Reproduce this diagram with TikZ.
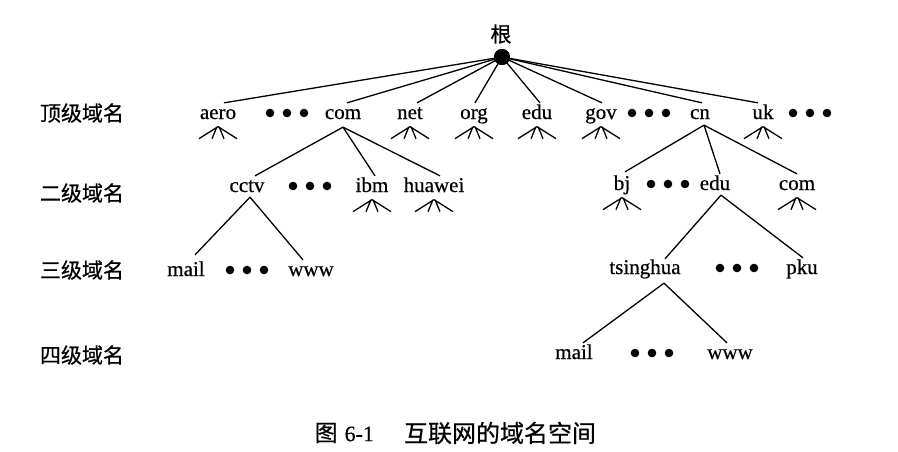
\documentclass[tikz,border=0pt]{standalone}
\usepackage{fontspec}
\setmainfont{Liberation Serif}[FakeBold=0.5]
\newfontfamily\cjk{Noto Sans CJK SC}[FakeBold=0.6]
\begin{document}
\begin{tikzpicture}[x=1pt,y=-1pt,line width=1.3pt,
  lbl/.style={font=\fontsize{21}{21}\selectfont,inner sep=0pt,text height=15.5pt,text depth=3.5pt},
  lvl/.style={font=\cjk\fontsize{21}{21}\selectfont,inner sep=0pt},
  rootdot/.style={circle,fill=black,inner sep=0pt,minimum size=16pt},
  fan/.pic={\draw (0,0) -- (-19,12) (-1,0) -- (-6,12) (1,0) -- (6,12) (0,0) -- (19,12);},
  ellip/.pic={\fill (-17,0) circle (4.3pt) (0,0) circle (4.3pt) (17,0) circle (4.3pt);}]
\useasboundingbox (0,0) rectangle (898,451);
% level labels
\node[lvl] (L1) at (82,113) {顶级域名};
\node[lvl] (L2) at (82,193) {二级域名};
\node[lvl] (L3) at (82,270) {三级域名};
\node[lvl] (L4) at (82,355) {四级域名};
% root
\node[lvl] (gen) at (501,34) {根};
\node[rootdot] (root) at (502,57) {};
% level 1
\node[lbl] (aero) at (218,113) {aero};
\node[lbl] (com) at (343,113) {com};
\node[lbl] (net) at (410,113) {net};
\node[lbl] (org) at (474,113) {org};
\node[lbl] (edu) at (537,113) {edu};
\node[lbl] (gov) at (601,113) {gov};
\node[lbl] (cn) at (700,113) {cn};
\node[lbl] (uk) at (763,113) {uk};
\pic at (287,113) {ellip};
\pic at (649,113) {ellip};
\pic at (810,113) {ellip};
% level 2
\node[lbl] (cctv) at (247,186) {cctv};
\node[lbl] (ibm) at (372,186) {ibm};
\node[lbl] (huawei) at (434,186) {huawei};
\node[lbl] (bj) at (622,184) {bj};
\node[lbl] (edu2) at (715,184) {edu};
\node[lbl] (com2) at (797,184) {com};
\pic at (310,186) {ellip};
\pic at (668,184) {ellip};
% level 3
\node[lbl] (mail) at (186,270) {mail};
\node[lbl] (www) at (311,270) {www};
\node[lbl] (tsinghua) at (645,268) {tsinghua};
\node[lbl] (pku) at (802,268) {pku};
\pic at (247,270) {ellip};
\pic at (737,268) {ellip};
% level 4
\node[lbl] (mail2) at (574,353) {mail};
\node[lbl] (www2) at (730,353) {www};
\pic at (652,353) {ellip};
% root connectors
\draw (root.center) -- ([xshift=6pt]aero.north);
\draw (root.center) -- ([xshift=4pt]com.north);
\draw (root.center) -- ([xshift=7pt]net.north);
\draw (root.center) -- ([xshift=1pt]org.north);
\draw (root.center) -- ([xshift=3pt]edu.north);
\draw (root.center) -- ([xshift=1pt]gov.north);
\draw (root.center) -- ([xshift=2pt]cn.north);
\draw (root.center) -- ([xshift=-5pt]uk.north);
\node[rootdot] at (root) {};
% com subtree
\coordinate (comA) at ([yshift=-4pt]com.south);
\draw (comA) -- ([xshift=8pt]cctv.north);
\draw (comA) -- ([xshift=3pt]ibm.north);
\draw (comA) -- ([xshift=6pt]huawei.north);
\coordinate (cctvA) at ([xshift=3pt,yshift=-1pt]cctv.south);
\draw (cctvA) -- ([xshift=9pt,yshift=5pt]mail.north);
\draw (cctvA) -- ([xshift=-8pt]www.north);
% cn subtree
\coordinate (cnA) at ([xshift=4pt,yshift=-2pt]cn.south);
\draw (cnA) -- ([xshift=3pt,yshift=2pt]bj.north);
\draw (cnA) -- ([xshift=5pt]edu2.north);
\draw (cnA) -- (com2.north);
\coordinate (eduA) at ([xshift=6pt,yshift=-1pt]edu2.south);
\draw (eduA) -- ([xshift=20pt,yshift=-1pt]tsinghua.north);
\draw (eduA) -- ([xshift=1pt]pku.north);
\coordinate (tsA) at ([xshift=19pt,yshift=-5pt]tsinghua.south);
\draw (tsA) -- ([xshift=9pt]mail2.north);
\draw (tsA) -- ([xshift=-3pt]www2.north);
% fans
\foreach \n in {aero,net,org,edu,gov,uk,ibm,huawei,bj,com2}
  \pic at ([yshift=-3.5pt]\n.south) {fan};
% caption
\node[font=\cjk\fontsize{23}{24}\selectfont,inner sep=0pt,anchor=west] (capA) at (314,433) {图};
\node[font=\fontsize{22}{24}\selectfont,inner sep=0pt,anchor=west] (capB) at (344,434) {6-1};
\node[font=\cjk\fontsize{24}{24}\selectfont,inner sep=0pt] (capC) at (500,433) {互联网的域名空间};
\end{tikzpicture}
\end{document}
